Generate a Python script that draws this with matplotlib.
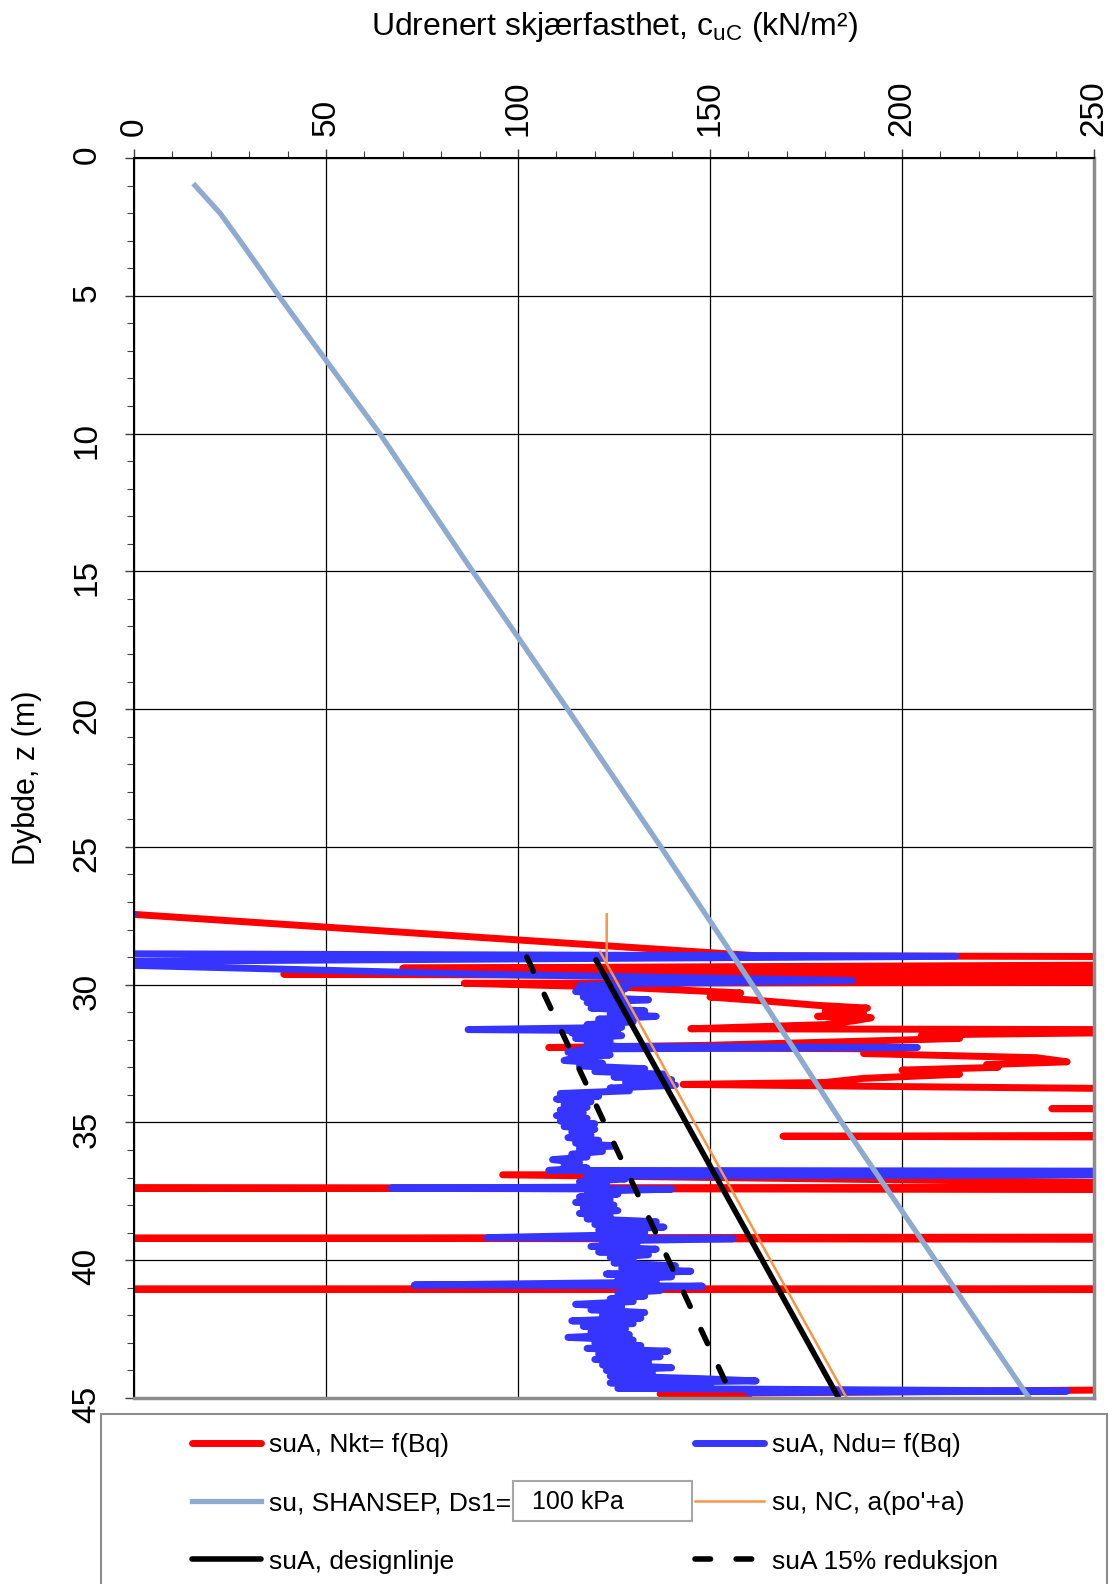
import matplotlib
matplotlib.use("Agg")
import matplotlib.pyplot as plt
import numpy as np
from matplotlib.patches import Rectangle
from matplotlib.ticker import MultipleLocator

plt.rcParams['font.family'] = ['Liberation Sans', 'DejaVu Sans']

# su from CPT, Nkt = f(Bq)  (values beyond 250 run off the axis)
red_z = [27.45, 28.95, 29.0, 29.25, 29.4, 29.45, 29.55, 29.62, 29.75, 29.9,
         29.95, 30.1, 30.3, 30.45, 30.6, 30.75, 30.85, 30.95, 31.05, 31.15,
         31.2, 31.3, 31.45, 31.6, 31.65, 31.8, 31.85, 31.95, 32.05, 32.2,
         32.28, 32.33, 32.5, 32.65, 32.8, 32.9, 33.0, 33.1, 33.25, 33.4,
         33.55, 33.62, 33.7, 33.85, 34.45, 34.5, 34.55, 35.45, 35.5, 35.55,
         36.88, 36.9, 37.3, 37.35, 37.38, 37.45, 39.15, 39.2, 39.25, 41.03,
         41.05, 41.07, 44.65, 44.72, 44.85, 44.9]
red_x = [0, 162, 320, 320, 70, 320, 320, 39, 320, 320,
         86, 128, 158, 150, 165, 178, 191, 180, 190, 178,
         192, 188, 180, 145, 320, 218, 205, 215, 190, 150,
         108, 200, 190, 235, 243, 222, 225, 200, 215, 190,
         180, 143, 200, 320, 320, 239, 320, 320, 169, 320,
         320, 96, 320, 320, 0, 320, 320, 0, 320, 320,
         0, 320, 320, 243, 137, 160]

# su from CPT, Ndu = f(Bq)
blue_z = [27.45, 27.5, 28.85, 28.88, 28.97, 29.15, 29.3, 29.62, 29.85, 29.95,
          30.05, 30.15, 30.25, 30.35, 30.45, 30.55, 30.65, 30.75, 30.85, 30.95,
          31.05, 31.15, 31.25, 31.35, 31.45, 31.55, 31.63, 31.67, 31.75, 31.85,
          31.95, 32.05, 32.15, 32.24, 32.28, 32.33, 32.45, 32.55, 32.65, 32.75,
          32.85, 32.95, 33.05, 33.15, 33.25, 33.35, 33.45, 33.55, 33.65, 33.75,
          33.85, 33.95, 34.05, 34.15, 34.25, 34.35, 34.45, 34.55, 34.65, 34.75,
          34.85, 34.95, 35.05, 35.15, 35.25, 35.35, 35.45, 35.55, 35.65, 35.75,
          35.85, 35.95, 36.05, 36.15, 36.25, 36.35, 36.45, 36.55, 36.65, 36.74,
          36.78, 36.85, 36.88, 36.95, 37.05, 37.15, 37.25, 37.35, 37.38, 37.42,
          37.5, 37.6, 37.7, 37.8, 37.9, 38.0, 38.1, 38.2, 38.3, 38.4,
          38.5, 38.6, 38.7, 38.8, 38.9, 39.0, 39.1, 39.18, 39.22, 39.3,
          39.4, 39.5, 39.6, 39.7, 39.8, 39.9, 40.0, 40.1, 40.2, 40.3,
          40.4, 40.5, 40.6, 40.7, 40.8, 40.9, 40.94, 41.0, 41.1, 41.2,
          41.3, 41.4, 41.5, 41.6, 41.7, 41.8, 41.9, 42.0, 42.1, 42.2,
          42.3, 42.4, 42.5, 42.6, 42.7, 42.8, 42.9, 43.0, 43.1, 43.2,
          43.3, 43.4, 43.5, 43.6, 43.7, 43.8, 43.9, 44.0, 44.1, 44.2,
          44.3, 44.38, 44.45, 44.55, 44.65, 44.75, 44.8]
blue_x = [0, -30, -30, 0, 214, 0, 0, 90, 187, 134,
          116, 128, 115, 127, 117, 134, 118, 128, 119, 133,
          124, 136, 121, 130, 118, 127, 87, 126, 114, 127,
          115, 124, 118, 126, 204, 118, 113, 124, 115, 112,
          122, 116, 133, 120, 138, 125, 140, 128, 141, 124,
          129, 111, 121, 110, 119, 112, 118, 111, 117, 110,
          118, 111, 120, 112, 120, 114, 119, 113, 121, 115,
          125, 116, 122, 114, 118, 109, 116, 112, 118, 108,
          320, 118, 320, 118, 128, 116, 123, 115, 67, 140,
          118, 126, 116, 124, 115, 125, 117, 126, 116, 124,
          118, 136, 120, 138, 121, 133, 120, 92, 156, 122,
          131, 119, 136, 121, 134, 124, 130, 125, 141, 127,
          145, 123, 140, 126, 136, 73, 148, 130, 137, 126,
          133, 124, 130, 115, 127, 119, 133, 122, 132, 114,
          130, 117, 128, 119, 129, 113, 130, 120, 132, 118,
          139, 121, 137, 120, 134, 122, 140, 123, 135, 124,
          148, 162, 124, 150, 126, 243, 160]

# SHANSEP profile
shansep_z = [1, 2, 3, 4, 5, 7, 10, 15, 20, 25, 30, 35, 40, 45]
shansep_x = [15.9, 22.4, 27.6, 32.7, 37.7, 48.2, 64.0, 88.2, 112.9, 137.2,
             161.0, 184.3, 208.7, 233.1]

# su NC, a(po'+a)
nc_z = [27.45, 29.17, np.nan, 28.81, 45.0]
nc_x = [123.1, 123.1, np.nan, 121.4, 185.6]

# design line and 15 % reduction
design_z = [29.1, 45.0]
design_x = [120.3, 183.5]
red15_z = [29.0, 45.0]
red15_x = [102.3, 156.0]

W, H = 1109, 1584
fig = plt.figure(figsize=(W / 100, H / 100), dpi=100)
ax = fig.add_axes([134 / W, 1 - 1398 / H, 960 / W, 1240 / H])

l_red, = ax.plot(red_x, red_z, color='#ff0000', lw=5, solid_capstyle='round',
                 solid_joinstyle='round', zorder=2)
l_blue, = ax.plot(blue_x, blue_z, color='#3535ff', lw=5, solid_capstyle='round',
                  solid_joinstyle='round', zorder=3)
l_sh, = ax.plot(shansep_x, shansep_z, color='#8eaad0', lw=3.8, zorder=4)
l_nc, = ax.plot(nc_x, nc_z, color='#f79646', lw=1.8, zorder=5)
l_des, = ax.plot(design_x, design_z, color='black', lw=4, solid_capstyle='round', zorder=6)
l_r15, = ax.plot(red15_x, red15_z, color='black', lw=4, dashes=(2.8, 4.6),
                 dash_capstyle='round', zorder=7)

ax.set_xlim(0, 250)
ax.set_ylim(45, 0)
ax.xaxis.tick_top()
ax.xaxis.set_label_position('top')
ax.set_xticks(np.arange(0, 251, 50))
ax.set_yticks(np.arange(0, 46, 5))
ax.xaxis.set_minor_locator(MultipleLocator(10))
ax.yaxis.set_minor_locator(MultipleLocator(1))
ax.tick_params(which='both', direction='out', color='#404040')
ax.tick_params(which='major', length=6.5, width=1.0, labelsize=24, labelrotation=90)
ax.tick_params(which='minor', length=4.8, width=0.8)
ax.tick_params(axis='x', which='major', pad=9)
ax.tick_params(axis='y', which='major', pad=16)
ax.grid(which='major', color='black', lw=0.9)
ax.set_axisbelow(True)

for side in ['left', 'top']:
    ax.spines[side].set_color('black')
    ax.spines[side].set_linewidth(1.5)
for side in ['right', 'bottom']:
    ax.spines[side].set_color('#8c8c8c')
    ax.spines[side].set_linewidth(2.5)
for sp in ax.spines.values():
    sp.set_zorder(10)

ax.set_xlabel('Udrenert skjærfasthet, c$_{\\mathregular{uC}}$ (kN/m²)', fontsize=23)
ax.xaxis.set_label_coords(0.5, 1 + (158 - 27) / 1240)
ax.xaxis.label.set_va('center')
ax.set_ylabel('Dybde, z (m)', fontsize=22)
ax.yaxis.set_label_coords((27 - 134) / 960, 0.5)
ax.yaxis.label.set_va('center')

# legend frame below the plot
fig.add_artist(Rectangle((101 / W, -0.01), (1107 - 101) / W, (H - 1414) / H + 0.01,
                         transform=fig.transFigure, facecolor='white',
                         edgecolor='#8c8c8c', lw=1.5, zorder=1))

leg_kw = dict(loc='upper left', frameon=False, fontsize=19, handlelength=2.6,
              handletextpad=0.3, labelspacing=1.3, borderpad=0, borderaxespad=0)
fig.legend([l_red, l_sh, l_des],
           ['suA, Nkt= f(Bq)', 'su, SHANSEP, Ds1=', 'suA, designlinje'],
           bbox_to_anchor=(192 / W, 1 - 1433 / H), **leg_kw)
fig.legend([l_blue, l_nc, l_r15],
           ['suA, Ndu= f(Bq)', "su, NC, a(po'+a)", 'suA 15% reduksjon'],
           bbox_to_anchor=(695 / W, 1 - 1433 / H), **leg_kw)

fig.add_artist(Rectangle((513 / W, 1 - 1521 / H), (692 - 513) / W, 40 / H,
                         transform=fig.transFigure, facecolor='white',
                         edgecolor='#a6a6a6', lw=1.5, zorder=10))
fig.text(532 / W, 1 - 1502 / H, '100 kPa', fontsize=18, va='center', zorder=11)

fig.savefig('out.png', dpi=100)
